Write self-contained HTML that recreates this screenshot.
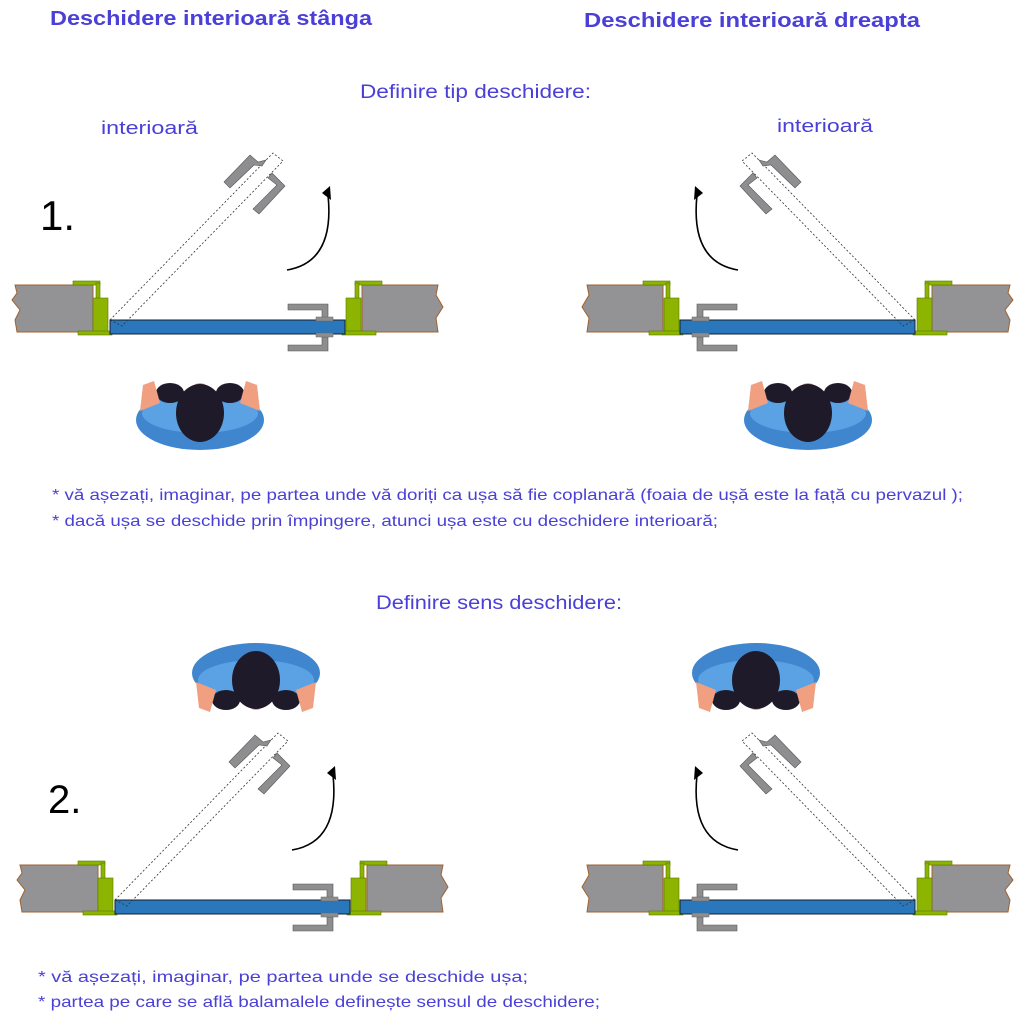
<!DOCTYPE html>
<html><head><meta charset="utf-8"><style>
html,body{margin:0;padding:0;background:#fff;width:1027px;height:1020px;overflow:hidden}
text{font-family:"Liberation Sans",sans-serif;fill:#4a3fd6}
</style></head><body>
<svg width="1027" height="1020" viewBox="0 0 1027 1020" xmlns="http://www.w3.org/2000/svg">
<defs>
<g id="door">
  <polygon points="15,285 93,285 93,332 17,332 15,320 20,310 12,300 17,293" fill="#939396" stroke="#a0622d" stroke-width="1"/>
  <polygon points="362,285 438,285 436,295 443,307 436,318 438,332 362,332" fill="#939396" stroke="#a0622d" stroke-width="1"/>
  <rect x="73" y="281" width="27" height="4" fill="#8cb400" stroke="#5a7a00" stroke-width="0.6"/>
  <rect x="96" y="283" width="4" height="22" fill="#8cb400" stroke="#5a7a00" stroke-width="0.6"/>
  <rect x="93" y="298" width="15" height="34" fill="#8cb400" stroke="#5a7a00" stroke-width="0.6"/>
  <rect x="78" y="331" width="34" height="4" fill="#8cb400" stroke="#5a7a00" stroke-width="0.6"/>
  <rect x="355" y="281" width="27" height="4" fill="#8cb400" stroke="#5a7a00" stroke-width="0.6"/>
  <rect x="355" y="283" width="4" height="22" fill="#8cb400" stroke="#5a7a00" stroke-width="0.6"/>
  <rect x="346" y="298" width="15" height="34" fill="#8cb400" stroke="#5a7a00" stroke-width="0.6"/>
  <rect x="342" y="331" width="34" height="4" fill="#8cb400" stroke="#5a7a00" stroke-width="0.6"/>
  <rect x="110" y="320" width="235" height="14" fill="#2a77bb" stroke="#123" stroke-width="1"/>
  <path d="M288,304 H328 V318 H322 V310 H288 Z" fill="#8e8e90" stroke="#555" stroke-width="0.6"/>
  <path d="M288,351 H328 V337 H322 V345 H288 Z" fill="#8e8e90" stroke="#555" stroke-width="0.6"/>
  <rect x="316" y="317" width="17" height="4" fill="#8e8e90" stroke="#666" stroke-width="0.5"/>
  <rect x="316" y="333" width="17" height="4" fill="#8e8e90" stroke="#666" stroke-width="0.5"/>
  <polygon points="110,320 273,153 283,161 122,326" fill="none" stroke="#333" stroke-width="0.8" stroke-dasharray="2,2"/>
  <path d="M224,182 L250,155 L258,162 L266,160 L262,166 L254,165 L230,188 Z" fill="#8e8e90" stroke="#555" stroke-width="0.6"/>
  <path d="M253,209 L277,185 L268,178 L272,173 L285,186 L259,214 Z" fill="#8e8e90" stroke="#555" stroke-width="0.6"/>
  <path d="M287,270 Q335,262 328,195" fill="none" stroke="#000" stroke-width="1.6"/>
  <polygon points="322,193 330,186 331,200" fill="#000"/>
</g>
<g id="person">
  <ellipse cx="0" cy="5" rx="64" ry="30" fill="#3f86cf"/>
  <ellipse cx="0" cy="-2" rx="58" ry="20" fill="#5aa2e4"/>
  <ellipse cx="-30" cy="-22" rx="14" ry="10" fill="#1e1a2a"/>
  <ellipse cx="30" cy="-22" rx="14" ry="10" fill="#1e1a2a"/>
  <path d="M-60,-4 L-57,-30 L-46,-34 L-40,-12 Z" fill="#f0a080"/>
  <path d="M60,-4 L57,-30 L46,-34 L40,-12 Z" fill="#f0a080"/>
  <ellipse cx="0" cy="-25" rx="8" ry="7" fill="#f0a080"/>
  <ellipse cx="0" cy="-2" rx="24" ry="29" fill="#1e1a2a"/>
</g>
</defs>

<text x="50" y="25" font-size="20" font-weight="bold" textLength="322" lengthAdjust="spacingAndGlyphs">Deschidere interioară stânga</text>
<text x="584" y="27" font-size="20" font-weight="bold" textLength="336" lengthAdjust="spacingAndGlyphs">Deschidere interioară dreapta</text>
<text x="360" y="98" font-size="19" textLength="231" lengthAdjust="spacingAndGlyphs">Definire tip deschidere:</text>
<text x="101" y="134" font-size="18" textLength="97" lengthAdjust="spacingAndGlyphs">interioară</text>
<text x="777" y="132" font-size="18" textLength="96" lengthAdjust="spacingAndGlyphs">interioară</text>
<text x="40" y="230" font-size="42" style="fill:#000">1.</text>
<text x="48" y="813" font-size="40" style="fill:#000">2.</text>

<use href="#door"/>
<use href="#door" transform="translate(1025,0) scale(-1,1)"/>
<use href="#door" transform="translate(5,580)"/>
<use href="#door" transform="translate(1025,580) scale(-1,1)"/>

<use href="#person" transform="translate(200,415)"/>
<use href="#person" transform="translate(808,415)"/>
<use href="#person" transform="translate(256,678) rotate(180)"/>
<use href="#person" transform="translate(756,678) rotate(180)"/>

<text x="52" y="500" font-size="16" textLength="911" lengthAdjust="spacingAndGlyphs">* vă așezați, imaginar, pe partea unde vă doriți ca ușa să fie coplanară (foaia de ușă este la față cu pervazul );</text>
<text x="52" y="526" font-size="16" textLength="666" lengthAdjust="spacingAndGlyphs">* dacă ușa se deschide prin împingere, atunci ușa este cu deschidere interioară;</text>
<text x="376" y="609" font-size="19" textLength="246" lengthAdjust="spacingAndGlyphs">Definire sens deschidere:</text>
<text x="38" y="982" font-size="16" textLength="490" lengthAdjust="spacingAndGlyphs">* vă așezați, imaginar, pe partea unde se deschide ușa;</text>
<text x="38" y="1007" font-size="16" textLength="562" lengthAdjust="spacingAndGlyphs">* partea pe care se află balamalele definește sensul de deschidere;</text>
</svg>
</body></html>
